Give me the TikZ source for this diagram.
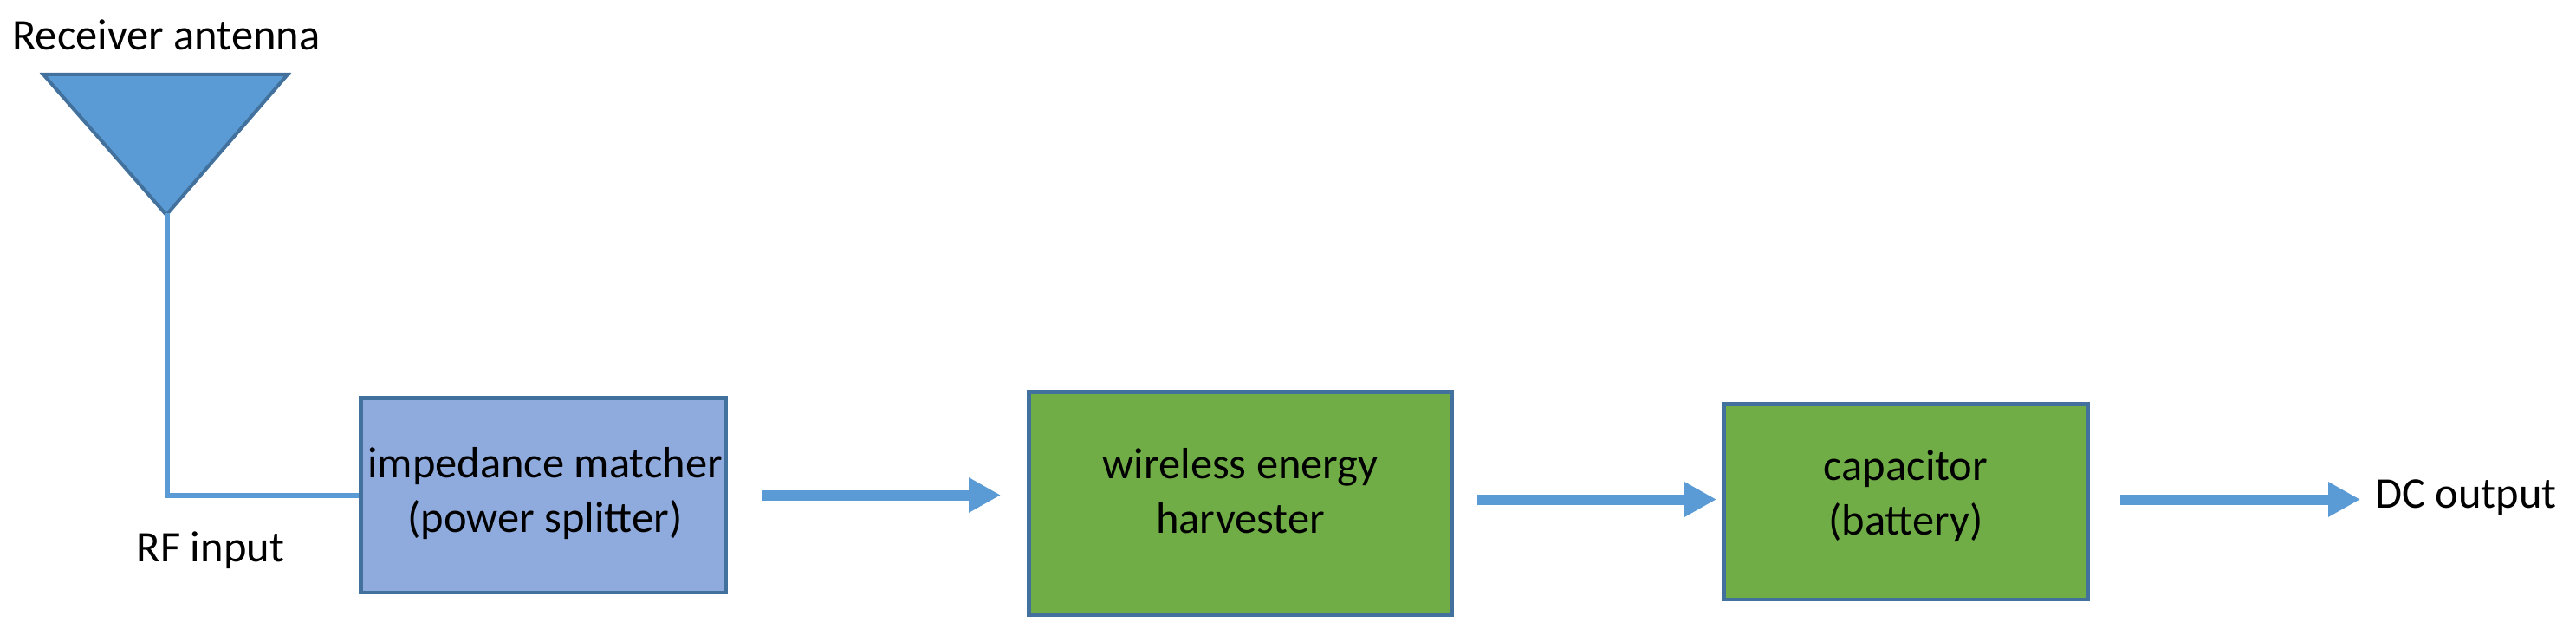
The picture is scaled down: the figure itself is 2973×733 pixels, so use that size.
\documentclass[tikz,border=0pt]{standalone}
\usepackage{fontspec}
\setmainfont{Carlito}
\usetikzlibrary{arrows.meta,calc}
\definecolor{lineblue}{HTML}{5B9BD5}
\definecolor{edgeblue}{HTML}{41719C}
\definecolor{boxblue}{HTML}{8FAADC}
\definecolor{boxgreen}{HTML}{70AD47}
\tikzset{
  txt/.style={font=\fontsize{50.5}{63}\selectfont, inner sep=0pt, align=center},
  blockbox/.style={draw=edgeblue, line width=4.5pt, rectangle, inner sep=0pt},
  blockarrow/.style={draw=lineblue, line width=12pt, -{Triangle[length=37pt,width=38pt]}},
  wire/.style={draw=lineblue, line width=6pt}
}
\begin{document}
\begin{tikzpicture}[x=1pt,y=-1pt]
\useasboundingbox (0,0) rectangle (2973,733);
% antenna
\filldraw[fill=lineblue, draw=edgeblue, line width=4pt, line join=miter] (50,86) -- (332,86) -- (192,248) -- cycle;
\coordinate (apex) at (193,246);
\node[txt, anchor=base] (ant) at (192,58) {Receiver antenna};
% boxes
\node[blockbox, fill=boxblue, minimum width=421.5pt, minimum height=224.5pt] (box1) at (627,571.5) {};
\node[blockbox, fill=boxgreen, minimum width=488.5pt, minimum height=257.5pt] (box2) at (1431.5,581) {};
\node[blockbox, fill=boxgreen, minimum width=420.5pt, minimum height=225.5pt] (box3) at (2199.5,579) {};
% box texts
\node[txt] (t1) at (629,570) {impedance matcher\\(power splitter)};
\node[txt] (t2) at (1431.5,567) {wireless energy\\harvester};
\node[txt] (t3) at (2199.5,573) {capacitor\\(battery)};
% labels
\node[txt, anchor=base] (rf) at (243,648) {RF input};
\node[txt, anchor=base west] (dc) at (2741,586) {DC output};
% antenna feed line
\draw[wire] (apex) |- (box1.west);
% arrows
\coordinate (a1s) at ($(box1.east)+(39,0)$);
\coordinate (a1e) at ($(box2.west)+(-30,-9.5)$);
\coordinate (a2s) at ($(box2.east)+(27,-4.5)$);
\coordinate (a2e) at ($(box3.west)+(-6,-2.5)$);
\coordinate (a3s) at ($(box3.east)+(35,-2.5)$);
\coordinate (a3e) at ($(a3s -| dc.west)+(-17,0)$);
\draw[blockarrow] (a1s) -- (a1e);
\draw[blockarrow] (a2s) -- (a2e);
\draw[blockarrow] (a3s) -- (a3e);
\end{tikzpicture}
\end{document}
